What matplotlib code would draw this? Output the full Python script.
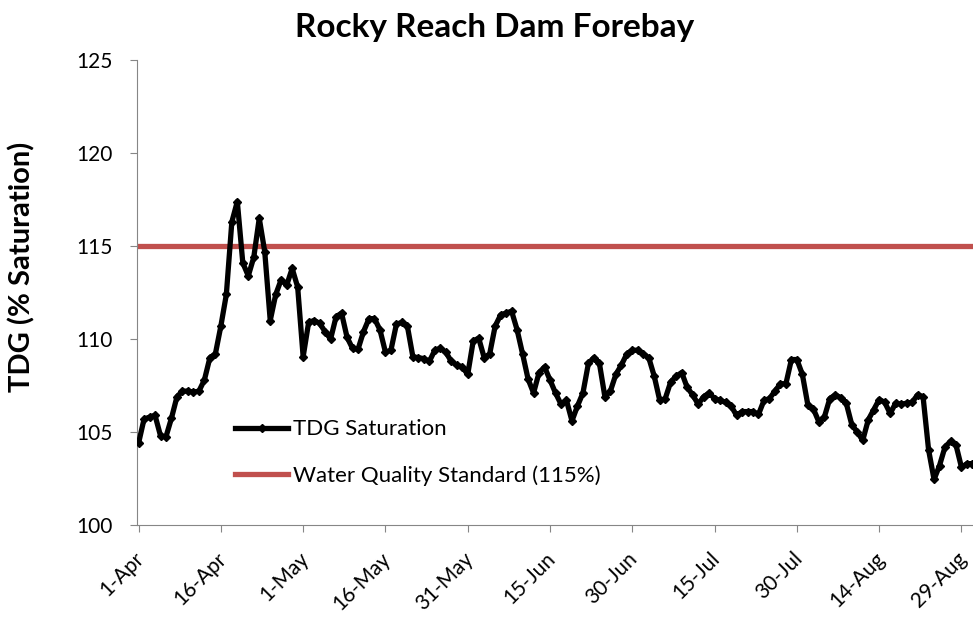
import matplotlib
matplotlib.use('Agg')
import matplotlib.pyplot as plt
import matplotlib.dates as mdates
from matplotlib.transforms import ScaledTranslation
import pandas as pd

# daily TDG readings, 1-Apr to 31-Aug
tdg = [104.4, 105.7, 105.8, 105.9, 104.8, 104.75, 105.75, 106.9, 107.2, 107.2,
       107.15, 107.2, 107.8, 109.0, 109.2, 110.7, 112.4, 116.3, 117.4, 114.1,
       113.4, 114.4, 116.5, 114.7, 111.0, 112.4, 113.2, 112.9, 113.8, 112.8,
       109.05, 110.9, 111.0, 110.85, 110.4, 110.0, 111.2, 111.4, 110.1, 109.5,
       109.45, 110.4, 111.1, 111.1, 110.5, 109.3, 109.4, 110.8, 110.9, 110.7,
       109.05, 109.0, 108.95, 108.8, 109.4, 109.5, 109.3, 108.8, 108.6, 108.5,
       108.1, 109.9, 110.05, 109.0, 109.2, 110.7, 111.3, 111.4, 111.5, 110.5,
       109.2, 107.85, 107.1, 108.2, 108.5, 107.8, 107.1, 106.5, 106.7, 105.6,
       106.4, 107.1, 108.7, 109.0, 108.7, 106.9, 107.2, 108.1, 108.6, 109.2,
       109.4, 109.4, 109.2, 109.0, 108.0, 106.7, 106.8, 107.7, 108.0, 108.2,
       107.4, 107.0, 106.5, 106.9, 107.1, 106.8, 106.7, 106.6, 106.4, 105.9,
       106.1, 106.1, 106.1, 105.95, 106.7, 106.8, 107.2, 107.6, 107.6, 108.9,
       108.9, 108.1, 106.45, 106.25, 105.55, 105.8, 106.8, 107.0, 106.85, 106.55,
       105.4, 105.0, 104.55, 105.65, 106.2, 106.75, 106.6, 106.0, 106.55, 106.5,
       106.55, 106.6, 107.0, 106.9, 104.05, 102.45, 103.2, 104.2, 104.5, 104.3,
       103.1, 103.3, 103.3]
dates = pd.date_range('2012-04-01', periods=len(tdg), freq='D')
standard = 115
tick_dates = pd.date_range('2012-04-01', periods=11, freq='15D')

plt.rcParams['font.family'] = ['Lato', 'DejaVu Sans']

fig = plt.figure(figsize=(9.73, 6.21), dpi=100)
ax = fig.add_axes([0.141, 0.1546, 0.859, 0.7484])

ax.plot(dates, tdg, color='black', lw=3.8, marker='D', ms=3.8, label='TDG Saturation', zorder=3)
ax.axhline(standard, color='#C0504D', lw=3.8, label='Water Quality Standard (115%)', zorder=2)

ax.set_ylim(100, 125)
ax.set_yticks([100, 105, 110, 115, 120, 125])
ax.set_xlim(dates[0] - pd.Timedelta(hours=6), dates[0] + pd.Timedelta(days=152.1))
ax.set_xticks(tick_dates)
ax.xaxis.set_major_formatter(mdates.DateFormatter('%-d-%b'))

for s in ['top', 'right']:
    ax.spines[s].set_visible(False)
for s in ['left', 'bottom']:
    ax.spines[s].set_color('#868686')
ax.tick_params(axis='both', colors='#868686', labelcolor='black', length=5)
ax.tick_params(axis='y', labelsize=15, pad=13)
ax.tick_params(axis='x', labelsize=15, pad=12)
shift = ScaledTranslation(-5 / 100, 0, fig.dpi_scale_trans)
for lab in ax.get_xticklabels():
    lab.set_rotation(45)
    lab.set_ha('right')
    lab.set_rotation_mode('anchor')
    lab.set_transform(lab.get_transform() + shift)

ax.set_ylabel('TDG (% Saturation)', fontsize=21, fontweight='bold')
ax.yaxis.set_label_coords(-0.122, 0.555)
fig.text(0.508, 0.955, 'Rocky Reach Dam Forebay', ha='center', va='center', fontsize=24, fontweight='bold')

ax.legend(loc='center left', bbox_to_anchor=(0.093, 0.156), frameon=False, fontsize=16,
          handlelength=2.4, labelspacing=1.15, handletextpad=0.22)

fig.savefig('out.png', dpi=100)
